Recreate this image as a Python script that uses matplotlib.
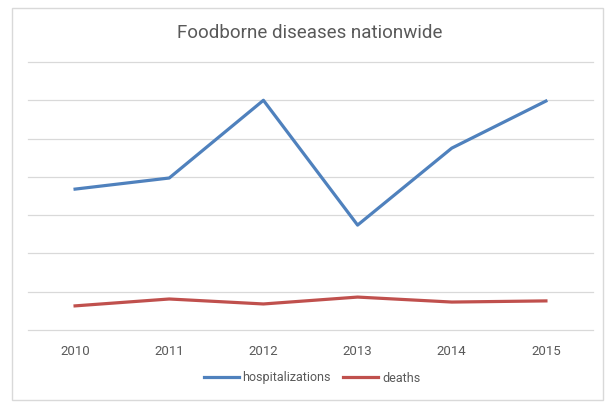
import matplotlib
matplotlib.use("Agg")
import matplotlib.pyplot as plt
from matplotlib.patches import Rectangle

# Data (y axis has no labels; values in arbitrary units)
years = ["2010", "2011", "2012", "2013", "2014", "2015"]
hospitalizations = [736, 794, 1200, 548, 950, 1196]
deaths = [126, 162, 136, 172, 146, 152]

plt.rcParams['font.family'] = ['Roboto', 'DejaVu Sans']

fig = plt.figure(figsize=(6.15, 4.09), dpi=100)
W, H = 615, 409

# outer chart border
fig.patches.append(Rectangle((12 / W, 1 - 400 / H), 591 / W, 392 / H,
                             transform=fig.transFigure, fill=False,
                             edgecolor="#D9D9D9", linewidth=1))

ax = fig.add_axes([28 / W, 79 / H, 565 / W, 268 / H])
x = range(len(years))
ax.plot(x, hospitalizations, color="#4F81BD", linewidth=2.3, label="hospitalizations")
ax.plot(x, deaths, color="#C0504D", linewidth=2.3, label="deaths")

ax.set_xlim(-0.5, len(years) - 0.5)
ax.set_ylim(0, 1400)
ax.set_yticks(range(0, 1401, 200))
ax.set_xticks(list(x))
ax.set_xticklabels(years)
ax.tick_params(axis="y", left=False, labelleft=False)
ax.tick_params(axis="x", bottom=False, labelsize=9.5, colors="#595959", pad=7)
ax.grid(axis="y", color="#D9D9D9", linewidth=0.9)
for gl in ax.get_ygridlines():
    gl.set_clip_on(False)
ax.set_axisbelow(True)
for s in ax.spines.values():
    s.set_visible(False)

fig.text(310 / W, 1 - 33 / H, "Foodborne diseases nationwide", ha="center",
         va="center", fontsize=13.5, color="#595959")

fig.legend(loc="center", bbox_to_anchor=(312 / W, 1 - 378 / H), ncol=2,
           frameon=False, fontsize=9, handlelength=2.8, handletextpad=0.3,
           columnspacing=1.0, labelcolor="#595959")

fig.savefig("out.png", dpi=100)
